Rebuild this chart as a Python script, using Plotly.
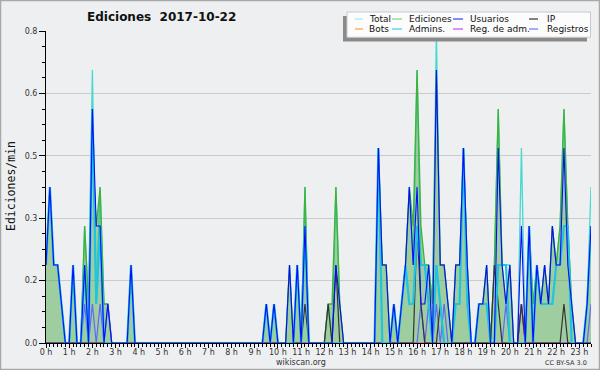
import pandas as pd
import plotly.graph_objects as go

# ---------------- data (edits per minute, 10-minute bins, 00:00 .. 23:30) ----------------
hour_labels = [f"{h} h" for h in range(24)]
y_tick_vals = [0.0, 0.16, 0.32, 0.48, 0.64, 0.8]
y_tick_text = ["0.0", "0.2", "0.3", "0.5", "0.6", "0.8"]

total = [
    .2, .4, .2, .2, .1, 0, 0, .2, 0, 0, .3, .1,
    .7, .1, .4, .1, .1, 0, 0, 0, 0, 0, .2, 0,
    0, 0, 0, 0, 0, 0, 0, 0, 0, 0, 0, 0,
    0, 0, 0, 0, 0, 0, 0, 0, 0, 0, 0, 0,
    0, 0, 0, 0, 0, 0, 0, 0, 0, .1, 0, .1,
    0, 0, 0, .2, 0, .2, 0, .4, 0, 0, 0, 0,
    0, .1, 0, .4, .1, 0, 0, 0, 0, 0, 0, 0,
    0, 0, .5, .2, .2, 0, .1, 0, .1, .2, .4, .2,
    .7, .2, .2, .2, .1, .8, .2, .2, .1, 0, .2, .2,
    .5, .2, 0, 0, .1, .1, .2, 0, .2, .6, .2, .2,
    .2, 0, 0, .5, 0, .3, .1, .2, .1, .2, .1, .3,
    .2, .3, .6, .3, .1, 0, 0, 0, .1, .4,
]
ediciones = [
    .2, .4, .2, .2, .1, 0, 0, .2, 0, 0, .3, .1,
    .5, .3, .4, .1, .1, 0, 0, 0, 0, 0, .2, 0,
    0, 0, 0, 0, 0, 0, 0, 0, 0, 0, 0, 0,
    0, 0, 0, 0, 0, 0, 0, 0, 0, 0, 0, 0,
    0, 0, 0, 0, 0, 0, 0, 0, 0, .1, 0, .1,
    0, 0, 0, .2, 0, .2, 0, .4, 0, 0, 0, 0,
    0, .1, .1, .4, .1, 0, 0, 0, 0, 0, 0, 0,
    0, 0, .5, .2, .2, 0, .1, 0, .1, .2, .4, .3,
    .7, .3, .2, .2, .1, .7, .2, .2, .1, 0, .2, .2,
    .5, .2, 0, 0, .1, .1, .2, 0, .2, .6, .2, .1,
    .2, 0, 0, .1, 0, .3, .1, .2, .1, .2, .1, .3,
    .2, .3, .6, .3, .1, 0, 0, 0, .1, .3,
]
usuarios = [
    .2, .4, .2, .2, .1, 0, 0, .2, 0, 0, .2, 0,
    .6, .3, .3, 0, .1, 0, 0, 0, 0, 0, .2, 0,
    0, 0, 0, 0, 0, 0, 0, 0, 0, 0, 0, 0,
    0, 0, 0, 0, 0, 0, 0, 0, 0, 0, 0, 0,
    0, 0, 0, 0, 0, 0, 0, 0, 0, .1, 0, .1,
    0, 0, 0, .2, 0, .2, 0, .3, 0, 0, 0, 0,
    0, 0, 0, .2, .1, 0, 0, 0, 0, 0, 0, 0,
    0, 0, .5, .2, .2, 0, .1, 0, .1, .2, .4, .2,
    .4, .1, .1, .2, 0, .7, .2, .2, .1, 0, .2, .2,
    .5, .2, 0, 0, .1, .1, .2, 0, 0, .5, .2, .1,
    .2, 0, 0, .3, 0, .3, 0, .2, .1, .2, .1, .3,
    .2, .2, .5, .2, .1, 0, 0, 0, .1, .3,
]
ip = [
    0, 0, 0, 0, 0, 0, 0, 0, 0, 0, 0, 0,
    0, 0, 0, 0, 0, 0, 0, 0, 0, 0, 0, 0,
    0, 0, 0, 0, 0, 0, 0, 0, 0, 0, 0, 0,
    0, 0, 0, 0, 0, 0, 0, 0, 0, 0, 0, 0,
    0, 0, 0, 0, 0, 0, 0, 0, 0, 0, 0, 0,
    0, 0, 0, 0, 0, 0, 0, .1, 0, 0, 0, 0,
    0, .1, 0, .2, 0, 0, 0, 0, 0, 0, 0, 0,
    0, 0, 0, 0, 0, 0, 0, 0, 0, 0, 0, 0,
    .3, .1, 0, 0, 0, 0, .1, 0, 0, 0, 0, 0,
    0, 0, 0, 0, 0, 0, 0, 0, .2, .1, 0, 0,
    0, 0, 0, .1, 0, 0, 0, 0, 0, 0, 0, 0,
    0, 0, .1, 0, 0, 0, 0, 0, 0, 0,
]
bots = [0] * 142
admins = [
    .2, .4, .2, .2, .1, 0, 0, .2, 0, 0, .2, 0,
    .6, .1, .3, 0, 0, 0, 0, 0, 0, 0, .2, 0,
    0, 0, 0, 0, 0, 0, 0, 0, 0, 0, 0, 0,
    0, 0, 0, 0, 0, 0, 0, 0, 0, 0, 0, 0,
    0, 0, 0, 0, 0, 0, 0, 0, 0, .1, 0, .1,
    0, 0, 0, 0, 0, .2, 0, .3, 0, 0, 0, 0,
    0, 0, 0, 0, 0, 0, 0, 0, 0, 0, 0, 0,
    0, 0, .5, 0, 0, 0, .1, 0, .1, .2, .1, .1,
    .3, .2, .2, .1, 0, .2, .1, 0, 0, 0, .1, .1,
    .5, .1, 0, 0, .1, .1, .1, 0, 0, .2, .2, .2,
    0, 0, 0, 0, 0, .3, 0, .2, .1, .1, .1, .1,
    .2, .2, .3, .3, 0, 0, 0, 0, .1, .3,
]
reg_adm = [0] * 123 + [.1] + [0] * 18
registros = [
    0, 0, 0, 0, 0, 0, 0, 0, 0, 0, .1, 0,
    .1, 0, .1, 0, .1, 0, 0, 0, 0, 0, 0, 0,
    0, 0, 0, 0, 0, 0, 0, 0, 0, 0, 0, 0,
    0, 0, 0, 0, 0, 0, 0, 0, 0, 0, 0, 0,
    0, 0, 0, 0, 0, 0, 0, 0, 0, 0, 0, 0,
    0, 0, 0, 0, 0, 0, 0, 0, 0, 0, 0, 0,
    0, 0, 0, 0, 0, 0, 0, 0, 0, 0, 0, 0,
    0, 0, 0, 0, 0, 0, 0, 0, 0, 0, 0, 0,
    0, .1, 0, .1, 0, .1, 0, .1, 0, 0, 0, 0,
    0, 0, 0, 0, 0, 0, 0, 0, 0, 0, 0, .1,
    0, 0, 0, .1, 0, 0, 0, 0, 0, 0, 0, 0,
    0, 0, 0, 0, 0, 0, 0, 0, 0, .1,
]

times = pd.date_range("2017-10-22 00:00", periods=len(total), freq="10min")
hour_ticks = pd.date_range("2017-10-22 00:00", periods=24, freq="1h")

# ---------------- styling ----------------
BG = "#eeeff0"
C_TOTAL = "#45d9cf"
C_ED_LINE = "#3cb43c"
C_ED_FILL = "rgba(60,165,60,0.45)"
C_USU = "#0a0aff"
C_IP = "#333333"
C_BOTS = "#ffa020"
C_ADM = "#1ec4e0"
C_REGADM = "#cc44ee"
C_REG = "#6464ff"

L, R, T, B = 46, 9, 31, 27
W, H = 600, 370
PW, PH = W - L - R, H - T - B


def px(x):
    return (x - L) / PW


def py(y):
    return (H - B - y) / PH


fig = go.Figure()
fig.add_trace(go.Scatter(x=times, y=total, mode="lines", name="Total",
                         line=dict(color=C_TOTAL, width=1.3)))
fig.add_trace(go.Scatter(x=times, y=ediciones, mode="lines", name="Ediciones",
                         fill="tozeroy", fillcolor=C_ED_FILL,
                         line=dict(color=C_ED_LINE, width=1.3)))
fig.add_trace(go.Scatter(x=times, y=bots, mode="lines", name="Bots",
                         line=dict(color=C_BOTS, width=1)))
fig.add_trace(go.Scatter(x=times, y=registros, mode="lines", name="Registros",
                         line=dict(color=C_REG, width=1.2)))
fig.add_trace(go.Scatter(x=times, y=reg_adm, mode="lines", name="Reg. de adm.",
                         line=dict(color=C_REGADM, width=1.2)))
fig.add_trace(go.Scatter(x=times, y=ip, mode="lines", name="IP",
                         line=dict(color=C_IP, width=1.2)))
fig.add_trace(go.Scatter(x=times, y=admins, mode="lines", name="Admins.",
                         line=dict(color=C_ADM, width=2.2)))
fig.add_trace(go.Scatter(x=times, y=usuarios, mode="lines", name="Usuarios",
                         line=dict(color=C_USU, width=1.1)))

tickfont = dict(family="DejaVu Sans", size=8, color="#333333")
fig.update_layout(
    width=W, height=H,
    margin=dict(l=L, r=R, t=T, b=B),
    paper_bgcolor=BG, plot_bgcolor=BG,
    showlegend=False,
    font=dict(family="DejaVu Sans", size=8, color="#222222"),
    xaxis=dict(
        type="date",
        range=[times[0], pd.Timestamp("2017-10-22 23:30")],
        tickmode="array", tickvals=hour_ticks, ticktext=hour_labels,
        ticks="outside", ticklen=4, tickcolor="black", tickwidth=1,
        ticklabelstandoff=-3,
        showline=True, linecolor="black", linewidth=1,
        showgrid=False, zeroline=False, tickfont=tickfont,
        minor=dict(dtick=600000, ticks="outside", ticklen=3,
                   tickcolor="black", showgrid=False),
    ),
    yaxis=dict(
        range=[0, 0.8],
        tickmode="array", tickvals=y_tick_vals, ticktext=y_tick_text,
        ticks="outside", ticklen=6, tickcolor="black",
        showline=True, linecolor="black", linewidth=1,
        showgrid=True, gridcolor="#cbcbcb", gridwidth=1,
        zeroline=False, tickfont=tickfont,
        minor=dict(tick0=0, dtick=0.04, ticks="outside", ticklen=3,
                   tickcolor="black", showgrid=False),
    ),
)

shapes = []
annotations = []

# outer border of the image
shapes.append(dict(type="rect", xref="paper", yref="paper",
                   x0=px(0.5), x1=px(599.5), y0=py(0.5), y1=py(369.5),
                   line=dict(color="#a8a8a8", width=1.5), fillcolor="rgba(0,0,0,0)"))

# title
annotations.append(dict(xref="paper", yref="paper", x=px(161), y=py(17),
                        text="<b>Ediciones\u00a0\u00a02017-10-22</b>", showarrow=False,
                        font=dict(family="DejaVu Sans", size=12, color="#111111"),
                        xanchor="center", yanchor="middle"))
# y axis title
annotations.append(dict(xref="paper", yref="paper", x=px(11), y=py(186),
                        text="Ediciones/min", showarrow=False, textangle=-90,
                        font=dict(family="DejaVu Sans Mono", size=11.5, color="#111111"),
                        xanchor="center", yanchor="middle"))
# footer
annotations.append(dict(xref="paper", yref="paper", x=px(301), y=py(362.5),
                        text="wikiscan.org", showarrow=False,
                        font=dict(family="DejaVu Sans", size=8, color="#333333"),
                        xanchor="center", yanchor="middle"))
annotations.append(dict(xref="paper", yref="paper", x=px(589), y=py(362.5),
                        text="CC BY-SA 3.0", showarrow=False,
                        font=dict(family="DejaVu Sans", size=6.5, color="#333333"),
                        xanchor="right", yanchor="middle"))

# legend (drawn box, swatches and labels)
shapes.append(dict(type="rect", xref="paper", yref="paper",
                   x0=px(343), x1=px(587), y0=py(16), y1=py(41.5),
                   line=dict(width=0), fillcolor="#8a8a8a", layer="above"))
shapes.append(dict(type="rect", xref="paper", yref="paper",
                   x0=px(347), x1=px(590.5), y0=py(12), y1=py(37.3),
                   line=dict(color="#c8c8c8", width=1), fillcolor="#fcfcfc", layer="above"))
legend_items = [
    ("Total", "#a6ebe6", 355, 363, 367, 19),
    ("Ediciones", "#80cf80", 392, 402, 407, 19),
    ("Usuarios", "#3c3cff", 453, 463, 468, 19),
    ("IP", "#333333", 529, 538, 545, 19),
    ("Bots", "#ffa030", 355, 363, 367, 29),
    ("Admins.", "#3ccce4", 392, 402, 407, 29),
    ("Reg. de adm.", "#d244f0", 453, 463, 468, 29),
    ("Registros", "#7070ff", 529, 538, 545, 29),
]
for name, col, s0, s1, tx, yy in legend_items:
    shapes.append(dict(type="line", xref="paper", yref="paper",
                       x0=px(s0), x1=px(s1), y0=py(yy), y1=py(yy),
                       line=dict(color=col, width=1.2), layer="above"))
    annotations.append(dict(xref="paper", yref="paper", x=px(tx), y=py(yy),
                            text=name, showarrow=False,
                            font=dict(family="DejaVu Sans", size=9, color="#111111"),
                            xanchor="left", yanchor="middle"))

fig.update_layout(shapes=shapes, annotations=annotations)
fig.write_html("out.html")
